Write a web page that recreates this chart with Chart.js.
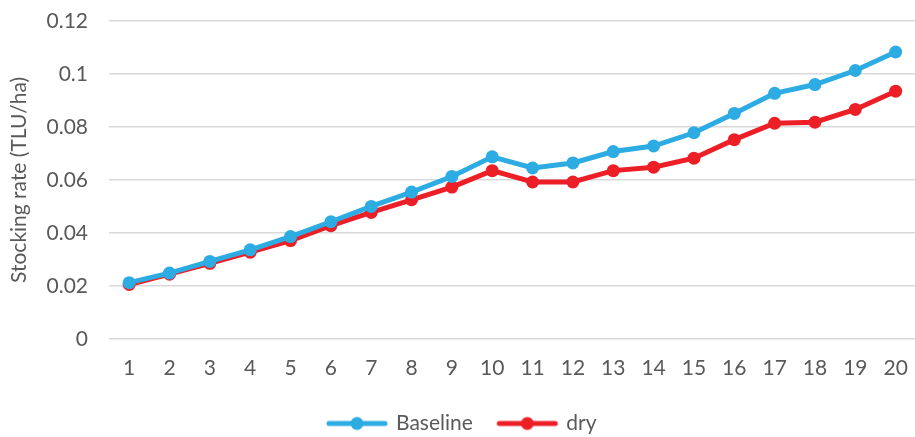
<!DOCTYPE html>
<html><head><meta charset="utf-8">
<script src="https://cdn.jsdelivr.net/npm/chart.js@4/dist/chart.umd.min.js"></script>
<style>html,body{margin:0;padding:0;overflow:hidden;background:#fff}#wrap{width:925px;height:437px;position:relative}</style>
</head><body><div id="wrap"><canvas id="c"></canvas></div>
<script>
const categories = ['1','2','3','4','5','6','7','8','9','10','11','12','13','14','15','16','17','18','19','20'];
const baseline = [0.0212,0.0248,0.0292,0.0336,0.0386,0.0442,0.0500,0.0554,0.0613,0.0687,0.0645,0.0664,0.0707,0.0728,0.0778,0.0851,0.0927,0.0960,0.1013,0.1083];
const dry = [0.0205,0.0244,0.0285,0.0327,0.0371,0.0427,0.0477,0.0525,0.0573,0.0635,0.0592,0.0592,0.0635,0.0648,0.0682,0.0752,0.0814,0.0818,0.0866,0.0935];
const yTicks = ['0','0.02','0.04','0.06','0.08','0.1','0.12'];
const BLUE = '#2CACE2', RED = '#EC1F27', TXT = '#595959';
const FONT = {family: 'Lato', size: 21};

function legendIcon(color){
  const c = document.createElement('canvas'); c.width = 66; c.height = 16;
  const x = c.getContext('2d');
  x.strokeStyle = color; x.lineWidth = 5; x.lineCap = 'round';
  x.beginPath(); x.moveTo(5,8); x.lineTo(61,8); x.stroke();
  x.fillStyle = color; x.beginPath(); x.arc(33,8,6.5,0,Math.PI*2); x.fill();
  return c;
}
const icons = [legendIcon(BLUE), legendIcon(RED)];

new Chart(document.getElementById('c'), {
  type: 'line',
  data: {
    labels: categories,
    datasets: [
      {label:'Baseline', data: baseline, borderColor: BLUE, backgroundColor: BLUE, borderWidth: 5, pointRadius: 6.5, pointHoverRadius: 6.5, pointBorderWidth: 0, tension: 0},
      {label:'dry', data: dry, borderColor: RED, backgroundColor: RED, borderWidth: 5, pointRadius: 6.5, pointHoverRadius: 6.5, pointBorderWidth: 0, tension: 0}
    ]
  },
  options: {
    responsive: true, maintainAspectRatio: false, animation: false,
    layout: {padding: {top: 21, left: 0, right: 0, bottom: -7}},
    plugins: {
      tooltip: {enabled: false},
      legend: {
        position: 'bottom',
        labels: {
          usePointStyle: true, pointStyleWidth: 57, padding: 26,
          color: TXT, font: FONT,
          generateLabels: (chart) => chart.data.datasets.map((d,i) => ({
            text: d.label, pointStyle: icons[i], fillStyle: d.borderColor, strokeStyle: d.borderColor,
            lineWidth: 0, hidden: false, datasetIndex: i, fontColor: TXT
          }))
        }
      }
    },
    scales: {
      x: {
        offset: true,
        afterFit: (s) => { s.height -= 11; },
        grid: {display: false, drawTicks: false},
        border: {display: false},
        ticks: {color: TXT, font: FONT, padding: 17, maxRotation: 0, autoSkip: false}
      },
      y: {
        min: 0, max: 0.12,
        afterFit: (s) => { s.width = 109; s.paddingTop = 0; s.paddingBottom = 0; },
        grid: {color: '#D9D9D9', lineWidth: 1.5, drawTicks: false},
        border: {display: false},
        ticks: {stepSize: 0.02, color: TXT, font: FONT, padding: 21,
          callback: (v, i) => yTicks[i]},
        title: {display: true, text: 'Stocking rate (TLU/ha)', color: TXT, font: FONT, padding: {top: 7, bottom: 0}}
      }
    }
  }
});
</script></body></html>
